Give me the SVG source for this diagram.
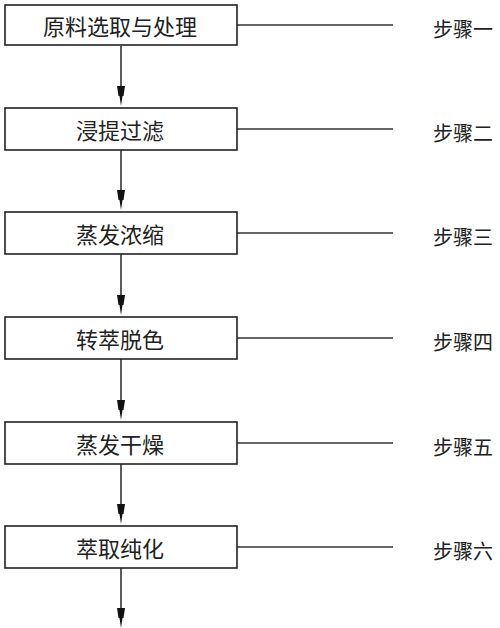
<svg xmlns="http://www.w3.org/2000/svg" width="500" height="628" viewBox="0 0 500 628">
<defs>
<style>
.box{fill:#fff;stroke:#222;stroke-width:1.6}
.t{font-family:"Noto Sans CJK SC","Liberation Sans",sans-serif;font-size:22px;fill:#222;text-anchor:middle;dominant-baseline:central}
.s{font-family:"Noto Sans CJK SC","Liberation Sans",sans-serif;font-size:20px;fill:#222;dominant-baseline:central}
.ln{stroke:#333;stroke-width:1.6;fill:none}
.ah{fill:#111}
</style>
</defs>
<rect width="500" height="628" fill="#fff"/>
<g id="connectors">
<line class="ln" x1="121" y1="46" x2="121" y2="100"/>
<polygon class="ah" points="117,86 125,86 123.5,96 122.5,96 121,106 119.5,96 118.5,96"/>
<line class="ln" x1="121" y1="150" x2="121" y2="204"/>
<polygon class="ah" points="117,190 125,190 123.5,200 122.5,200 121,210 119.5,200 118.5,200"/>
<line class="ln" x1="121" y1="254" x2="121" y2="309"/>
<polygon class="ah" points="117,295 125,295 123.5,305 122.5,305 121,315 119.5,305 118.5,305"/>
<line class="ln" x1="121" y1="359" x2="121" y2="414"/>
<polygon class="ah" points="117,400 125,400 123.5,410 122.5,410 121,420 119.5,410 118.5,410"/>
<line class="ln" x1="121" y1="464" x2="121" y2="518"/>
<polygon class="ah" points="117,504 125,504 123.5,514 122.5,514 121,524 119.5,514 118.5,514"/>
<line class="ln" x1="121" y1="568" x2="121" y2="622"/>
<polygon class="ah" points="117,608 125,608 123.5,618 122.5,618 121,628 119.5,618 118.5,618"/>
<line class="ln" x1="237" y1="25" x2="393" y2="25"/>
<line class="ln" x1="237" y1="129" x2="393" y2="129"/>
<line class="ln" x1="237" y1="233" x2="393" y2="233"/>
<line class="ln" x1="237" y1="338" x2="393" y2="338"/>
<line class="ln" x1="237" y1="443" x2="393" y2="443"/>
<line class="ln" x1="237" y1="547" x2="393" y2="547"/>
</g>
<g id="n1"><rect class="box" x="5" y="5" width="232" height="40"/><text class="t" x="120" y="25">原料选取与处理</text></g>
<g id="n2"><rect class="box" x="5" y="108" width="232" height="42"/><text class="t" x="120" y="129">浸提过滤</text></g>
<g id="n3"><rect class="box" x="5" y="212" width="232" height="42"/><text class="t" x="120" y="233">蒸发浓缩</text></g>
<g id="n4"><rect class="box" x="5" y="317" width="232" height="42"/><text class="t" x="120" y="338">转萃脱色</text></g>
<g id="n5"><rect class="box" x="5" y="422" width="232" height="42"/><text class="t" x="120" y="443">蒸发干燥</text></g>
<g id="n6"><rect class="box" x="5" y="526" width="232" height="42"/><text class="t" x="120" y="547">萃取纯化</text></g>
<g id="labels">
<text class="s" x="433" y="28">步骤一</text>
<text class="s" x="433" y="132">步骤二</text>
<text class="s" x="433" y="236">步骤三</text>
<text class="s" x="433" y="341">步骤四</text>
<text class="s" x="433" y="446">步骤五</text>
<text class="s" x="433" y="550">步骤六</text>
</g>
</svg>
